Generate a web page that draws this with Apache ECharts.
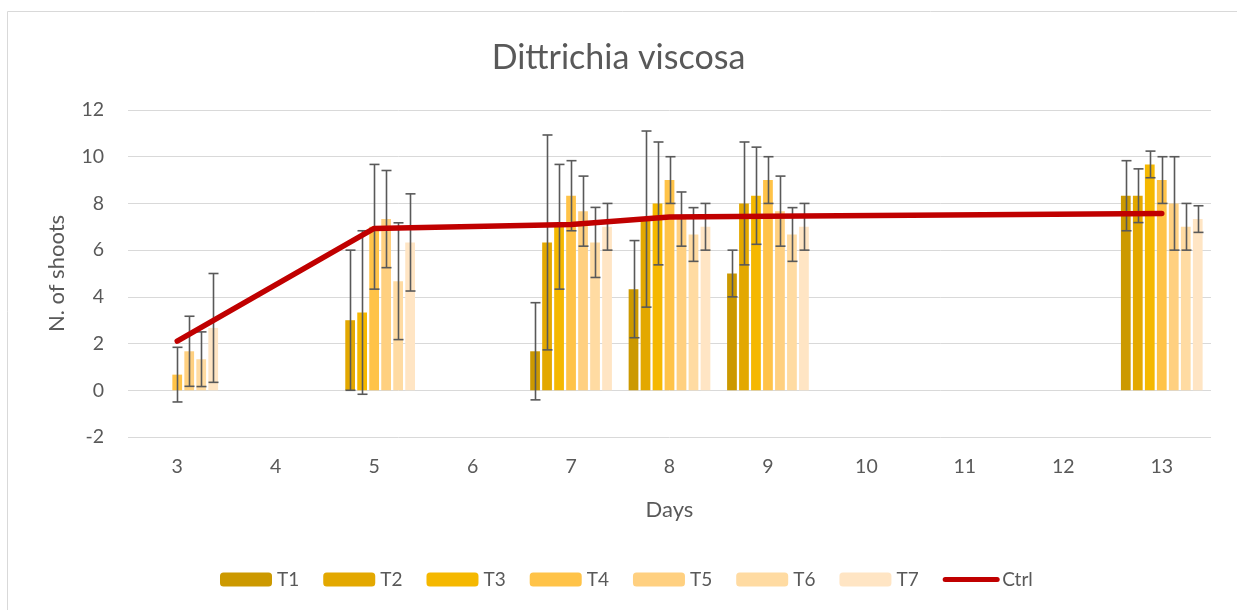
<!DOCTYPE html>
<html>
<head>
<meta charset="utf-8">
<style>
  html, body { margin: 0; padding: 0; background: #fff; }
  #chart { width: 1237px; height: 610px; }
</style>
<script src="https://cdn.jsdelivr.net/npm/echarts@6/dist/echarts.min.js"></script>
</head>
<body>
<div id="chart"></div>
<script>
const days = ['3', '4', '5', '6', '7', '8', '9', '10', '11', '12', '13'];
const yTicks = [-2, 0, 2, 4, 6, 8, 10, 12];

const t1 = [0, null, 0, null, 1.67, 4.33, 5.0, null, null, null, 8.33];
const t2 = [0, null, 3.0, null, 6.33, 7.33, 8.0, null, null, null, 8.33];
const t3 = [0, null, 3.33, null, 7.0, 8.0, 8.33, null, null, null, 9.67];
const t4 = [0.67, null, 7.0, null, 8.33, 9.0, 9.0, null, null, null, 9.0];
const t5 = [1.67, null, 7.33, null, 7.67, 7.33, 7.67, null, null, null, 8.0];
const t6 = [1.33, null, 4.67, null, 6.33, 6.67, 6.67, null, null, null, 7.0];
const t7 = [2.67, null, 6.33, null, 7.0, 7.0, 7.0, null, null, null, 7.33];

const t1Err = [0, null, 0, null, 2.08, 2.08, 1.0, null, null, null, 1.5];
const t2Err = [0, null, 3.0, null, 4.6, 3.77, 2.63, null, null, null, 1.15];
const t3Err = [0, null, 3.5, null, 2.67, 2.63, 2.08, null, null, null, 0.57];
const t4Err = [1.17, null, 2.67, null, 1.5, 1.0, 1.0, null, null, null, 1.0];
const t5Err = [1.5, null, 2.08, null, 1.5, 1.16, 1.5, null, null, null, 2.0];
const t6Err = [1.17, null, 2.5, null, 1.5, 1.15, 1.15, null, null, null, 1.0];
const t7Err = [2.33, null, 2.08, null, 1.0, 1.0, 1.0, null, null, null, 0.57];

const ctrl = [2.1, null, 6.93, null, 7.1, 7.42, 7.45, null, null, null, 7.57];

const names = ['T1', 'T2', 'T3', 'T4', 'T5', 'T6', 'T7'];
const colors = ['#CC9900', '#E3A800', '#F5B800', '#FFC348', '#FFD080', '#FFDBA2', '#FFE5C4'];
const values = [t1, t2, t3, t4, t5, t6, t7];
const errors = [t1Err, t2Err, t3Err, t4Err, t5Err, t6Err, t7Err];

const catGap = 0.17;
const barGap = 0.23;
const textColor = '#595959';
const font = 'Lato';

function errorSeries(i) {
    const data = [];
    values[i].forEach((v, k) => {
        const e = errors[i][k];
        if (v != null && e) data.push([k, v - e, v + e]);
    });
    return {
        name: names[i] + ' err',
        type: 'custom',
        z: 3,
        silent: true,
        data: data,
        renderItem: (params, api) => {
            const band = api.size([1, 0])[0];
            const bw = band * (1 - catGap) / (7 + 6 * barGap);
            const off = (i - 3) * bw * (1 + barGap);
            const lo = api.coord([api.value(0), api.value(1)]);
            const hi = api.coord([api.value(0), api.value(2)]);
            const x = Math.round(lo[0] + off) + 0.5;
            const cap = 5;
            const style = { stroke: '#595959', lineWidth: 1.6 };
            return {
                type: 'group',
                children: [
                    { type: 'line', shape: { x1: x, y1: lo[1], x2: x, y2: hi[1] }, style: style },
                    { type: 'line', shape: { x1: x - cap, y1: lo[1], x2: x + cap, y2: lo[1] }, style: style },
                    { type: 'line', shape: { x1: x - cap, y1: hi[1], x2: x + cap, y2: hi[1] }, style: style }
                ]
            };
        }
    };
}

const series = [];
names.forEach((n, i) => {
    series.push({
        name: n,
        type: 'bar',
        data: values[i],
        itemStyle: { color: colors[i] },
        barGap: (barGap * 100) + '%',
        barCategoryGap: (catGap * 100) + '%',
        z: 2
    });
});
names.forEach((n, i) => series.push(errorSeries(i)));
series.push({
    name: 'Ctrl',
    type: 'line',
    data: ctrl,
    connectNulls: true,
    symbol: 'none',
    z: 5,
    lineStyle: { color: '#C00000', width: 5.5, cap: 'round', join: 'round' },
    itemStyle: { color: '#C00000' }
});

let option = {
    animation: false,
    textStyle: { fontFamily: font },
    title: {
        text: 'Dittrichia viscosa',
        left: 'center',
        top: 36,
        textStyle: { fontFamily: font, fontSize: 34, fontWeight: 'normal', color: textColor }
    },
    graphic: [{
        type: 'rect',
        shape: { x: 7.5, y: 11.5, width: 1240, height: 620 },
        style: { fill: 'none', stroke: '#D9D9D9', lineWidth: 1 },
        silent: true
    }],
    legend: {
        data: names.map(n => ({ name: n })).concat([{
            name: 'Ctrl',
            itemStyle: { opacity: 0 },
            lineStyle: { width: 5, cap: 'round' }
        }]),
        left: 215,
        top: 565,
        itemWidth: 52,
        itemHeight: 14,
        itemGap: 24,
        textStyle: { fontFamily: font, fontSize: 19, color: textColor }
    },
    grid: {
        left: 128,
        right: 26,
        top: 110,
        bottom: 173
    },
    xAxis: {
        type: 'category',
        data: days,
        name: 'Days',
        nameLocation: 'middle',
        nameGap: 62,
        nameTextStyle: { fontFamily: font, fontSize: 22, color: textColor },
        axisLine: { show: false },
        axisTick: { show: false },
        axisLabel: { fontFamily: font, fontSize: 19.5, color: textColor, margin: 20 }
    },
    yAxis: {
        type: 'value',
        min: yTicks[0],
        max: yTicks[yTicks.length - 1],
        interval: 2,
        name: 'N. of shoots',
        nameLocation: 'middle',
        nameGap: 60,
        nameTextStyle: { fontFamily: font, fontSize: 22, color: textColor },
        axisLine: { show: false },
        axisTick: { show: false },
        axisLabel: { fontFamily: font, fontSize: 19.5, color: textColor, margin: 24 },
        splitLine: { lineStyle: { color: '#D9D9D9', width: 1 } }
    },
    series: series
};

let myChart = echarts.init(document.getElementById('chart'));
myChart.setOption(option);
</script>
</body>
</html>
